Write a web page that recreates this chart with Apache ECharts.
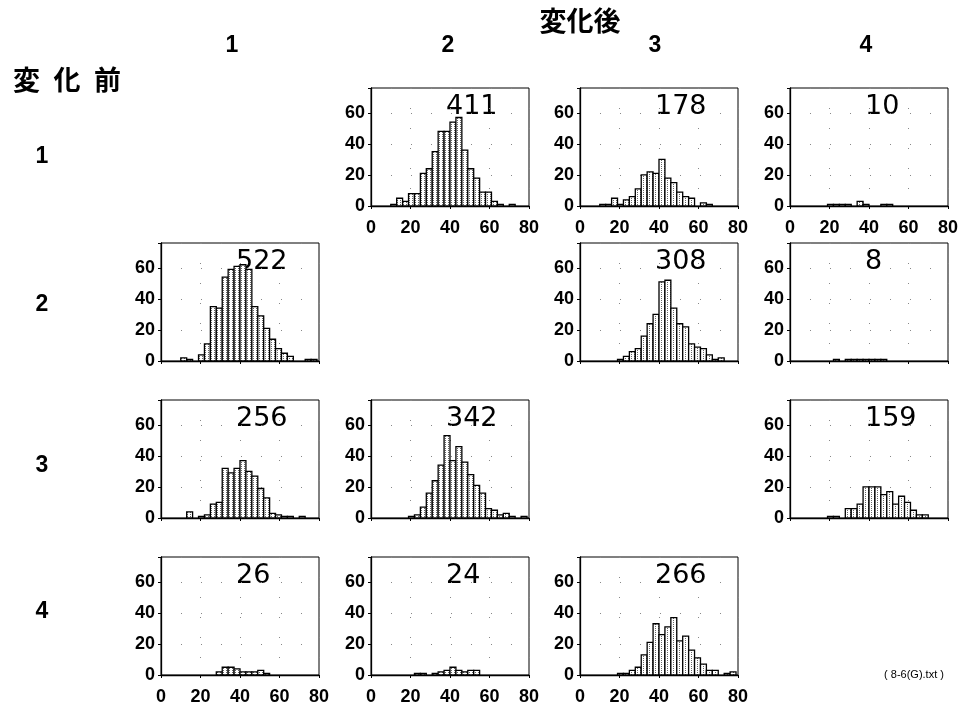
<!DOCTYPE html>
<html>
<head>
<meta charset="utf-8">
<script src="https://cdn.jsdelivr.net/npm/echarts@6.0.0/dist/echarts.min.js"></script>
<style>
html, body { margin: 0; padding: 0; background: #fff; }
#main { width: 975px; height: 715px; }
</style>
</head>
<body>
<div id="main"></div>
<script>
// histogram bins (left edge of each bin, width 3)
var binLeft = [1, 4, 7, 10, 13, 16, 19, 22, 25, 28, 31, 34, 37, 40, 43, 46, 49, 52, 55, 58, 61, 64, 67, 70, 73, 76];
var binWidth = 3;

var rowLabels = ['1', '2', '3', '4'];
var colLabels = ['1', '2', '3', '4'];

// counts per bin, panel "before -> after"
var count_1_2 = [0,0,0,1,5,3,8,8,21,24,35,48,48,54,57,36,24,18,9,9,3,1,0,1,0,0];
var count_1_3 = [0,0,0,1,1,5,1,4,6,11,20,22,21,30,18,15,9,6,5,0,2,1,0,0,0,0];
var count_1_4 = [0,0,0,0,0,0,1,1,1,1,0,3,1,0,0,1,1,0,0,0,0,0,0,0,0,0];
var count_2_1 = [0,0,0,2,1,0,4,11,35,34,54,59,61,62,59,35,29,21,14,8,5,3,0,0,1,1];
var count_2_3 = [0,0,0,0,0,0,1,3,6,8,16,24,30,51,52,34,24,22,11,9,8,4,1,2,0,0];
var count_2_4 = [0,0,0,0,0,0,0,1,0,1,1,1,1,1,1,1,0,0,0,0,0,0,0,0,0,0];
var count_3_1 = [0,0,0,0,4,0,1,2,9,10,32,29,32,37,30,27,19,13,3,2,1,1,0,1,0,0];
var count_3_2 = [0,0,0,0,0,0,1,2,7,16,24,34,53,37,46,36,28,21,16,6,5,2,3,1,0,1];
var count_3_4 = [0,0,0,0,0,0,1,1,0,6,6,9,20,20,20,15,17,9,14,10,5,2,2,0,0,0];
var count_4_1 = [0,0,0,0,0,0,0,0,0,2,5,5,4,2,2,2,3,1,0,0,0,0,0,0,0,0];
var count_4_2 = [0,0,0,0,0,0,0,1,1,0,1,2,3,5,3,2,3,3,0,0,0,0,0,0,0,0];
var count_4_3 = [0,0,0,0,0,0,1,1,3,5,13,21,33,26,31,37,22,25,16,11,7,3,3,0,1,2];

var totals = { '1_2': '411', '1_3': '178', '1_4': '10', '2_1': '522', '2_3': '308', '2_4': '8',
               '3_1': '256', '3_2': '342', '3_4': '159', '4_1': '26', '4_2': '24', '4_3': '266' };

var panels = [
  { row: 0, col: 1, key: '1_2', counts: count_1_2 },
  { row: 0, col: 2, key: '1_3', counts: count_1_3 },
  { row: 0, col: 3, key: '1_4', counts: count_1_4 },
  { row: 1, col: 0, key: '2_1', counts: count_2_1 },
  { row: 1, col: 2, key: '2_3', counts: count_2_3 },
  { row: 1, col: 3, key: '2_4', counts: count_2_4 },
  { row: 2, col: 0, key: '3_1', counts: count_3_1 },
  { row: 2, col: 1, key: '3_2', counts: count_3_2 },
  { row: 2, col: 3, key: '3_4', counts: count_3_4 },
  { row: 3, col: 0, key: '4_1', counts: count_4_1 },
  { row: 3, col: 1, key: '4_2', counts: count_4_2 },
  { row: 3, col: 2, key: '4_3', counts: count_4_3 }
];

// layout
var colLeft = [161, 371, 580, 790];
var rowTop = [88, 243, 400, 557];
var panelW = 158, panelH = 118;
var colHeadX = [232, 448, 655, 866];
var rowHeadY = [157, 305, 466, 612];
var font = '"Liberation Sans", Arial, sans-serif';
var numFont = '"DejaVu Sans", sans-serif';
var jpFont = '"Noto Sans CJK JP", sans-serif';

// dotted hatching inside the bars
var pat = document.createElement('canvas');
pat.width = 3; pat.height = 2;
var pc = pat.getContext('2d');
pc.fillStyle = '#fff'; pc.fillRect(0, 0, 3, 2);
pc.fillStyle = '#666'; pc.fillRect(1, 0, 1, 1);

var grids = [], xAxes = [], yAxes = [], series = [], graphics = [];

panels.forEach(function (p, i) {
  var showX = p.row === 0 || p.row === 3;
  grids.push({
    left: colLeft[p.col], top: rowTop[p.row], width: panelW, height: panelH,
    show: true, borderColor: '#000', borderWidth: 1, backgroundColor: '#fff'
  });
  xAxes.push({
    gridIndex: i, type: 'value', min: 0, max: 80, interval: 20, position: 'bottom',
    axisLine: { show: true, onZero: false, lineStyle: { color: '#000', width: 1.3 } },
    axisTick: { show: true, inside: false, length: 3, lineStyle: { color: '#000' } },
    axisLabel: { show: showX, color: '#000', fontSize: 18, fontWeight: 'bold', fontFamily: font, margin: 13 },
    splitLine: { show: true, lineStyle: { color: '#888', type: [1, 19] } }
  });
  xAxes.push({
    gridIndex: i, type: 'value', min: 0, max: 80, interval: 20, position: 'top',
    axisLine: { show: false },
    axisTick: { show: true, inside: true, length: 3, lineStyle: { color: '#000' } },
    axisLabel: { show: false }, splitLine: { show: false }
  });
  yAxes.push({
    gridIndex: i, type: 'value', min: 0, max: 76, interval: 20, position: 'left',
    axisLine: { show: true, onZero: false, lineStyle: { color: '#000', width: 1.3 } },
    axisTick: { show: true, inside: false, length: 3, lineStyle: { color: '#000' } },
    axisLabel: { show: true, showMaxLabel: false, color: '#000', fontSize: 18, fontWeight: 'bold', fontFamily: font, margin: 6 },
    splitLine: { show: true, lineStyle: { color: '#888', type: [1, 19] } }
  });
  yAxes.push({
    gridIndex: i, type: 'value', min: 0, max: 76, interval: 20, position: 'right',
    axisLine: { show: false },
    axisTick: { show: true, inside: true, length: 3, lineStyle: { color: '#000' } },
    axisLabel: { show: false }, splitLine: { show: false }
  });

  var data = [];
  p.counts.forEach(function (c, k) { if (c > 0) data.push([binLeft[k], c]); });

  series.push({
    type: 'custom', xAxisIndex: 2 * i, yAxisIndex: 2 * i,
    encode: { x: 0, y: 1 }, clip: true, silent: true,
    data: data,
    renderItem: function (params, api) {
      var x0 = api.value(0), v = api.value(1);
      var a = api.coord([x0, v]);
      var b = api.coord([x0 + binWidth, 0]);
      return {
        type: 'rect',
        shape: { x: a[0], y: a[1], width: b[0] - a[0], height: b[1] - a[1] },
        style: { fill: { image: pat, repeat: 'repeat' }, stroke: '#000', lineWidth: 1.3 }
      };
    }
  });

  graphics.push({
    type: 'text', x: colLeft[p.col] + 75, y: rowTop[p.row] + 19,
    style: { text: totals[p.key], fontSize: 27, fontFamily: numFont, fill: '#000',
             textAlign: 'left', textVerticalAlign: 'middle' }
  });
});

graphics.push({ type: 'text', x: 580, y: 21,
  style: { text: '変化後', fontSize: 27, fontWeight: 'bold', fontFamily: jpFont, fill: '#000', textAlign: 'center', textVerticalAlign: 'middle' } });
graphics.push({ type: 'text', x: 67, y: 80,
  style: { text: '変\u2002化\u2002前', fontSize: 27, fontWeight: 'bold', fontFamily: jpFont, fill: '#000', textAlign: 'center', textVerticalAlign: 'middle' } });
colLabels.forEach(function (t, c) {
  graphics.push({ type: 'text', x: colHeadX[c], y: 46,
    style: { text: t, fontSize: 23, fontWeight: 'bold', fontFamily: font, fill: '#000', textAlign: 'center', textVerticalAlign: 'middle' } });
});
rowLabels.forEach(function (t, r) {
  graphics.push({ type: 'text', x: 42, y: rowHeadY[r],
    style: { text: t, fontSize: 23, fontWeight: 'bold', fontFamily: font, fill: '#000', textAlign: 'center', textVerticalAlign: 'middle' } });
});
graphics.push({ type: 'text', x: 914, y: 675,
  style: { text: '( 8-6(G).txt )', fontSize: 11, fontFamily: font, fill: '#000', textAlign: 'center', textVerticalAlign: 'middle' } });

var myChart = echarts.init(document.getElementById('main'));
myChart.setOption({
  animation: false,
  backgroundColor: '#fff',
  grid: grids,
  xAxis: xAxes,
  yAxis: yAxes,
  series: series,
  graphic: graphics
});
</script>
</body>
</html>
